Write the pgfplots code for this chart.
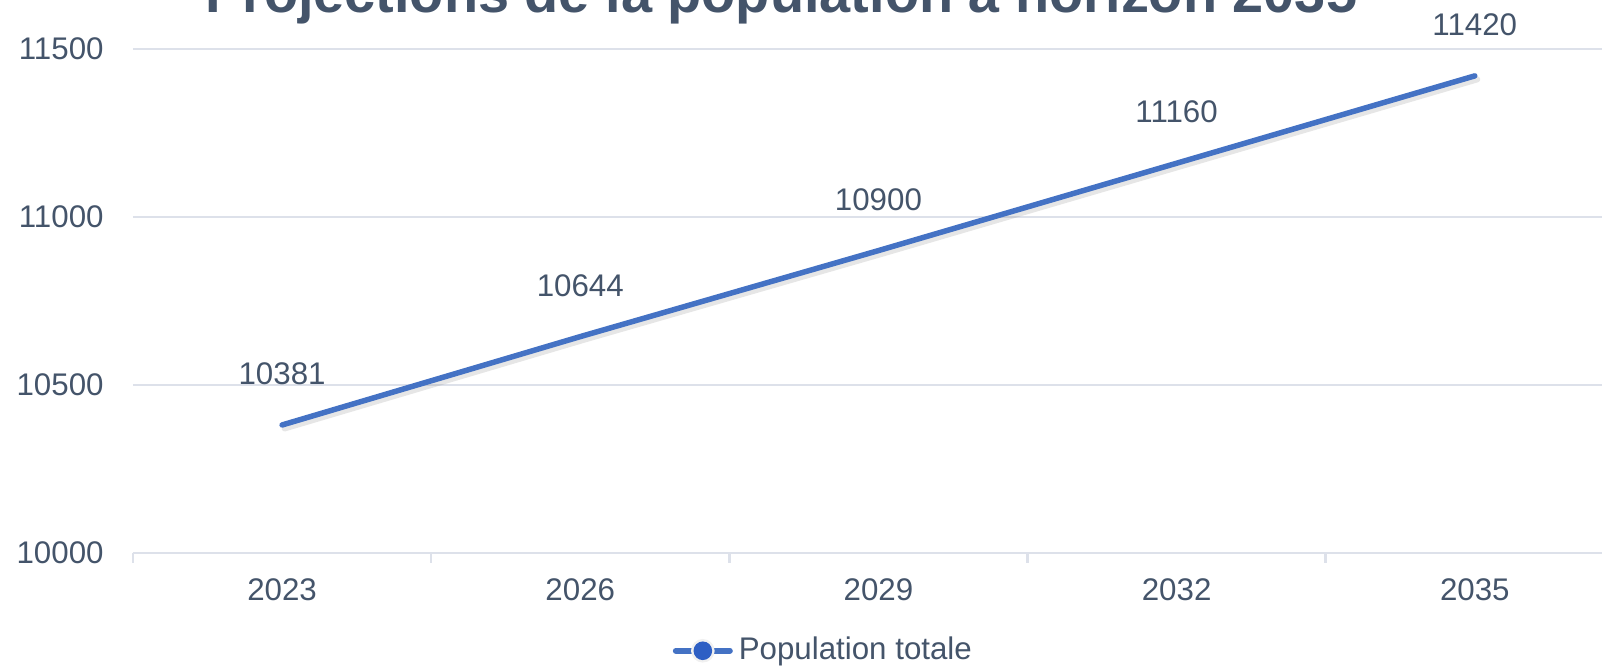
\documentclass[border=0pt]{standalone}
\usepackage{pgfplots}
\pgfplotsset{compat=1.18}
\usepackage{fontspec}
\setmainfont{Liberation Sans}
\definecolor{txt}{HTML}{44546A}
\definecolor{lineblue}{HTML}{4472C4}
\definecolor{markblue}{HTML}{2E5FC4}
\definecolor{gridgray}{HTML}{DDE1EA}
\begin{document}
\begin{tikzpicture}
\useasboundingbox (0,0) rectangle (16.02cm,6.67cm);
\clip (0,0) rectangle (16.02cm,6.67cm);
\node[anchor=base, text=txt, font=\fontsize{15.9}{19}\selectfont\bfseries, inner sep=0pt] at (7.81cm,6.54cm) {Projections de la population à horizon 2035};
\begin{axis}[
  at={(1.33cm,1.14cm)}, anchor=south west,
  scale only axis, width=14.70cm, height=5.04cm,
  xmin=-0.5, xmax=4.43, ymin=10000, ymax=11500,
  clip=false,
  axis x line*=bottom, axis y line*=left,
  x axis line style={draw=gridgray, line width=0.25mm, -},
  y axis line style={draw=none},
  xtick={0,1,2,3,4},
  xticklabels={2023,2026,2029,2032,2035},
  minor xtick={-0.5,0.5,1.5,2.5,3.5},
  major x tick style={draw=none},
  minor x tick style={draw=gridgray, line width=0.25mm},
  minor tick length=1mm,
  tick align=outside,
  ytick={10000,10500,11000,11500},
  scaled y ticks=false,
  yticklabel={\pgfmathprintnumber[fixed, precision=0, set thousands separator={}]{\tick}},
  ytick style={draw=none},
  ymajorgrids, grid style={draw=gridgray, line width=0.25mm},
  tick label style={font=\fontsize{8.9}{10}\selectfont, text=txt},
  /pgf/number format/assume math mode=true,
  /pgf/number format/set thousands separator={},
  yticklabel style={anchor=east, xshift=-0.2mm},
  xticklabel style={anchor=center, yshift=-2.2mm},
  legend style={at={(0.471,-0.194)}, anchor=center, draw=none, fill=none,
    font=\fontsize{8.9}{10}\selectfont, text=txt, inner sep=0pt,
    nodes={inner xsep=0.6mm}},
  legend cell align=left,
  legend image code/.code={
    \draw[lineblue, line width=0.6mm, line cap=round] (0cm,0cm) -- (0.54cm,0cm);
    \fill[gray!12] (0.27cm,0cm) circle (0.9mm);
    \fill[markblue] (0.27cm,0cm) circle (0.65mm);
  },
]
\addplot[gray, opacity=0.2, line width=0.6mm, line cap=round, forget plot,
  transform canvas={xshift=0.25mm, yshift=-0.35mm}]
  coordinates {(0,10381) (1,10644) (2,10900) (3,11160) (4,11420)};
\addplot[lineblue, line width=0.55mm, line cap=round, mark=none,
  nodes near coords, point meta=explicit symbolic,
  every node near coord/.style={anchor=center, yshift=5.1mm,
    font=\fontsize{8.9}{10}\selectfont, text=txt}]
  coordinates {(0,10381)[10381] (1,10644)[10644] (2,10900)[10900] (3,11160)[11160] (4,11420)[11420]};
\addlegendentry{Population totale}
\end{axis}
\end{tikzpicture}
\end{document}
